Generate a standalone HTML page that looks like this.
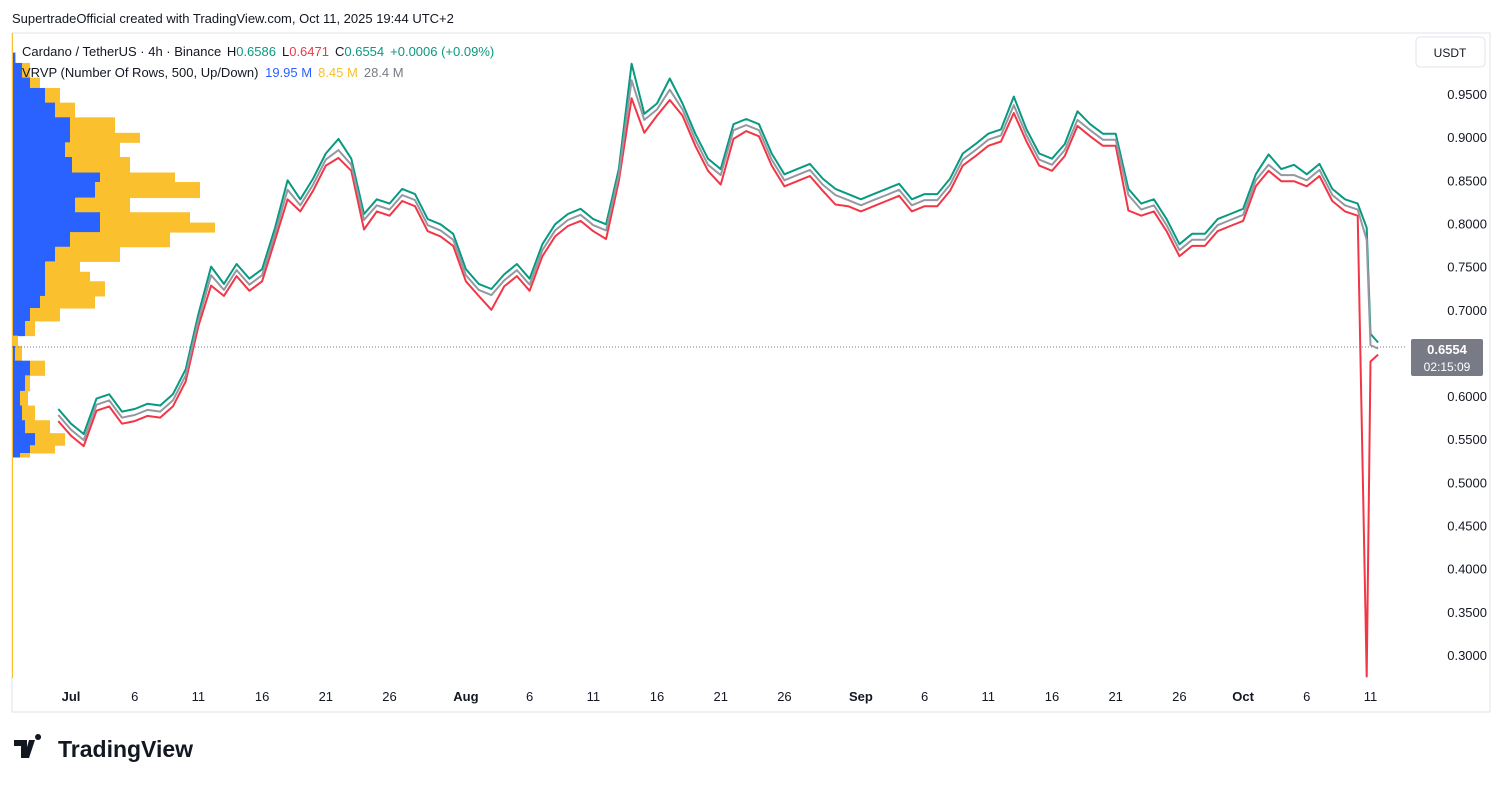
<!DOCTYPE html>
<html><head><meta charset="utf-8"><style>
body{margin:0;background:#fff;font-family:"Liberation Sans",sans-serif;}
svg text{font-family:"Liberation Sans",sans-serif;}
</style></head><body>
<svg id="c" width="1502" height="785" viewBox="0 0 1502 785">
<rect x="0" y="0" width="1502" height="785" fill="#fff"/>
<text x="12" y="23" font-size="13" fill="#131722">SupertradeOfficial created with TradingView.com, Oct 11, 2025 19:44 UTC+2</text>
<rect x="12" y="33" width="1478" height="679" fill="none" stroke="#e0e3eb"/>
<g id="profile"></g>
<line x1="12" y1="347" x2="1405" y2="347" stroke="#787b86" stroke-dasharray="1,2"/>
<g id="series"></g>
<g id="yaxis"></g>
<g id="xaxis"></g>
<text x="22" y="56" font-size="13" fill="#131722">Cardano / TetherUS · 4h · Binance <tspan fill="#131722" dx="2">H</tspan><tspan fill="#089981">0.6586</tspan><tspan dx="6">L</tspan><tspan fill="#f23645">0.6471</tspan><tspan dx="6">C</tspan><tspan fill="#089981">0.6554</tspan><tspan dx="6" fill="#089981">+0.0006 (+0.09%)</tspan></text>
<text x="22" y="77" font-size="13" fill="#131722">VRVP (Number Of Rows, 500, Up/Down) <tspan fill="#2962ff" dx="3">19.95 M</tspan><tspan fill="#f7c12d" dx="6">8.45 M</tspan><tspan fill="#787b86" dx="6">28.4 M</tspan></text>
<rect x="1416" y="37" width="69" height="30" rx="4" fill="#fff" stroke="#e0e3eb"/>
<text x="1450" y="57" font-size="12" text-anchor="middle" fill="#131722">USDT</text>
<rect x="1411" y="339" width="72" height="37" rx="2" fill="#787b86"/>
<text x="1447" y="354" font-size="13" font-weight="bold" fill="#fff" text-anchor="middle">0.6554</text>
<text x="1447" y="371" font-size="12" fill="#fff" text-anchor="middle">02:15:09</text>
<g>
<path d="M14 740h13v18h-6v-12h-7z M29 740h6l-6 18h-5z M38 740a3 3 0 1 1 0.1 0z" fill="#131722"/>
<text x="58" y="757" font-size="23" font-weight="bold" fill="#131722">TradingView</text>
</g>
</svg>
<script>
const dates=["Jun30","Jul1","Jul2","Jul3","Jul4","Jul5","Jul6","Jul7","Jul8","Jul9","Jul10","Jul11","Jul12","Jul13","Jul14","Jul15","Jul16","Jul17","Jul18","Jul19","Jul20","Jul21","Jul22","Jul23","Jul24","Jul25","Jul26","Jul27","Jul28","Jul29","Jul30","Jul31","Aug1","Aug2","Aug3","Aug4","Aug5","Aug6","Aug7","Aug8","Aug9","Aug10","Aug11","Aug12","Aug13","Aug14","Aug15","Aug16","Aug17","Aug18","Aug19","Aug20","Aug21","Aug22","Aug23","Aug24","Aug25","Aug26","Aug27","Aug28","Aug29","Aug30","Aug31","Sep1","Sep2","Sep3","Sep4","Sep5","Sep6","Sep7","Sep8","Sep9","Sep10","Sep11","Sep12","Sep13","Sep14","Sep15","Sep16","Sep17","Sep18","Sep19","Sep20","Sep21","Sep22","Sep23","Sep24","Sep25","Sep26","Sep27","Sep28","Sep29","Sep30","Oct1","Oct2","Oct3","Oct4","Oct5","Oct6","Oct7","Oct8","Oct9","Oct10","Oct10b","Oct11","Oct11b"];
const dayIdx=[-1,0,1,2,3,4,5,6,7,8,9,10,11,12,13,14,15,16,17,18,19,20,21,22,23,24,25,26,27,28,29,30,31,32,33,34,35,36,37,38,39,40,41,42,43,44,45,46,47,48,49,50,51,52,53,54,55,56,57,58,59,60,61,62,63,64,65,66,67,68,69,70,71,72,73,74,75,76,77,78,79,80,81,82,83,84,85,86,87,88,89,90,91,92,93,94,95,96,97,98,99,100,101,101.7,102,102.6];
const closeV=[0.578,0.561,0.549,0.590,0.595,0.575,0.578,0.584,0.582,0.595,0.624,0.688,0.740,0.723,0.746,0.729,0.740,0.787,0.839,0.821,0.845,0.874,0.885,0.868,0.804,0.821,0.816,0.833,0.827,0.798,0.792,0.781,0.740,0.723,0.717,0.734,0.746,0.729,0.769,0.792,0.804,0.810,0.798,0.792,0.856,0.966,0.920,0.932,0.955,0.932,0.897,0.868,0.856,0.908,0.914,0.908,0.874,0.850,0.856,0.862,0.845,0.833,0.827,0.821,0.827,0.833,0.839,0.821,0.827,0.827,0.845,0.874,0.885,0.897,0.902,0.937,0.902,0.874,0.868,0.885,0.920,0.908,0.897,0.897,0.833,0.816,0.821,0.798,0.769,0.781,0.781,0.798,0.804,0.810,0.850,0.868,0.856,0.856,0.850,0.862,0.833,0.821,0.816,0.781,0.659,0.655];
const highV=[0.585,0.568,0.556,0.597,0.602,0.582,0.585,0.591,0.589,0.602,0.631,0.695,0.750,0.730,0.753,0.736,0.747,0.794,0.850,0.828,0.852,0.881,0.898,0.875,0.811,0.828,0.823,0.840,0.834,0.805,0.799,0.788,0.747,0.730,0.724,0.741,0.753,0.736,0.776,0.799,0.811,0.817,0.805,0.799,0.863,0.985,0.927,0.939,0.968,0.939,0.904,0.875,0.863,0.915,0.921,0.915,0.881,0.857,0.863,0.869,0.852,0.840,0.834,0.828,0.834,0.840,0.846,0.828,0.834,0.834,0.852,0.881,0.892,0.904,0.909,0.947,0.909,0.881,0.875,0.892,0.930,0.915,0.904,0.904,0.840,0.823,0.828,0.805,0.776,0.788,0.788,0.805,0.811,0.817,0.857,0.880,0.863,0.868,0.857,0.869,0.840,0.828,0.823,0.795,0.672,0.662];
const lowV=[0.571,0.554,0.542,0.583,0.588,0.568,0.571,0.577,0.575,0.588,0.617,0.681,0.728,0.716,0.739,0.722,0.733,0.780,0.828,0.814,0.838,0.867,0.876,0.861,0.793,0.814,0.809,0.826,0.820,0.791,0.785,0.774,0.733,0.716,0.700,0.727,0.739,0.722,0.762,0.785,0.797,0.803,0.791,0.782,0.849,0.945,0.905,0.925,0.943,0.925,0.890,0.861,0.845,0.898,0.907,0.901,0.867,0.843,0.849,0.855,0.838,0.822,0.820,0.814,0.820,0.826,0.832,0.814,0.820,0.820,0.838,0.867,0.878,0.890,0.895,0.928,0.895,0.867,0.861,0.878,0.913,0.901,0.890,0.890,0.815,0.809,0.814,0.791,0.762,0.774,0.774,0.791,0.797,0.803,0.843,0.861,0.849,0.849,0.843,0.855,0.826,0.814,0.809,0.275,0.640,0.648];
const yTicks=[0.95,0.90,0.85,0.80,0.75,0.70,0.60,0.55,0.50,0.45,0.40,0.35,0.30];
const xTickLabels=["Jul","6","11","16","21","26","Aug","6","11","16","21","26","Sep","6","11","16","21","26","Oct","6","11"];
const xTickDays=[0,5,10,15,20,25,31,36,41,46,51,56,62,67,72,77,82,87,92,97,102];
const profPrices=[0.998,0.986,0.969,0.957,0.940,0.923,0.905,0.894,0.877,0.859,0.848,0.830,0.813,0.801,0.790,0.773,0.756,0.744,0.733,0.716,0.702,0.687,0.670,0.658,0.641,0.624,0.606,0.589,0.572,0.557,0.543,0.534];
const profUp=[3,10,18,33,43,58,58,53,60,88,83,63,88,88,58,43,33,33,33,28,18,13,0,3,18,13,8,10,13,23,18,8];
const profDown=[1,8,10,15,20,45,70,55,58,75,105,55,90,115,100,65,35,45,60,55,30,10,6,7,15,5,8,13,25,30,25,10];
const NS="http://www.w3.org/2000/svg";
const x0=71,pxDay=12.74,yRef=0.95,yRefPx=94,pxPerUnit=43.15/0.05;
const xOf=d=>x0+d*pxDay;
const yOf=p=>yRefPx+(yRef-p)*pxPerUnit;
function mk(tag,attrs,parent){const e=document.createElementNS(NS,tag);for(const k in attrs)e.setAttribute(k,attrs[k]);parent.appendChild(e);return e;}
const prof=document.getElementById('profile');
for(let i=0;i<profPrices.length;i++){
 const yTop=yOf(profPrices[i]);
 const yBot=i<profPrices.length-1?yOf(profPrices[i+1]):yTop+4;
 const h=yBot-yTop+0.5;
 const u=mk('rect',{x:12,y:yTop,width:profUp[i],height:h,fill:'#2962ff'},prof);
 
 
 const d=mk('rect',{x:12+profUp[i],y:yTop,width:profDown[i],height:h,fill:'#fbc02d'},prof);
 
 
}
mk('line',{x1:12.5,y1:33,x2:12.5,y2:678,stroke:'#fbc02d'},prof);
const ser=document.getElementById('series');
function pts(a){return a.map((v,i)=>xOf(dayIdx[i]).toFixed(1)+','+yOf(v).toFixed(1)).join(' ');}
let l=mk('polyline',{points:pts(lowV),fill:'none',stroke:'#f23645','stroke-width':2,'stroke-linejoin':'round'},ser);


let h=mk('polyline',{points:pts(highV),fill:'none',stroke:'#089981','stroke-width':2,'stroke-linejoin':'round'},ser);


let c=mk('polyline',{points:pts(closeV),fill:'none',stroke:'#9598a1','stroke-width':2,'stroke-linejoin':'round'},ser);


const ya=document.getElementById('yaxis');
yTicks.forEach(t=>{const e=mk('text',{x:1487,y:yOf(t)+5,'font-size':13,'text-anchor':'end',fill:'#131722'},ya);e.textContent=t.toFixed(4);

});
const xa=document.getElementById('xaxis');
xTickLabels.forEach((t,i)=>{const bold=isNaN(+t);const e=mk('text',{x:xOf(xTickDays[i]),y:701,'font-size':13,'text-anchor':'middle',fill:'#131722','font-weight':bold?'bold':'normal'},xa);e.textContent=t;

});
</script>
</body></html>
